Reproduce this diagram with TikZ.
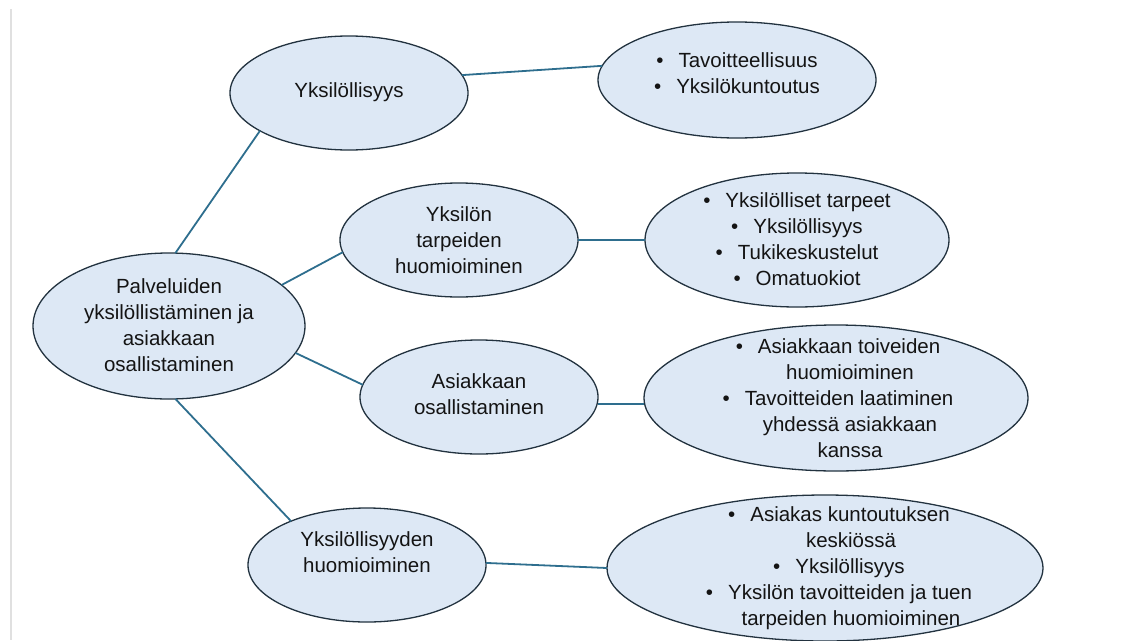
\documentclass[tikz,border=0pt]{standalone}
\usepackage{fontspec}
\setmainfont{Liberation Sans}
\usetikzlibrary{shapes.geometric}
\definecolor{fillb}{HTML}{DDE8F5}
\definecolor{edgeb}{HTML}{22323F}
\definecolor{linkb}{HTML}{2E6E8E}
\definecolor{txtc}{HTML}{141414}
\begin{document}
\begin{tikzpicture}[x=1pt,y=-1pt,
  ell/.style={ellipse,draw=edgeb,fill=fillb,line width=1.3pt,inner sep=0pt,outer sep=0pt},
  txt/.style={align=center,text=txtc,font=\fontsize{20.5}{26}\selectfont,inner sep=0pt},
  link/.style={draw=linkb,line width=1.8pt}]
\useasboundingbox (0,0) rectangle (1137,640);
\draw[color=black!12,line width=2pt] (11,9) -- (11,640);
% ellipses
\node[ell,minimum width=272,minimum height=146] (main) at (169,326) {};
\node[ell,minimum width=238,minimum height=114] (yk) at (349,93) {};
\node[ell,minimum width=278,minimum height=116] (tv) at (737,80) {};
\node[ell,minimum width=238,minimum height=114] (tp) at (459,240) {};
\node[ell,minimum width=304,minimum height=134] (yt) at (797,240) {};
\node[ell,minimum width=238,minimum height=114] (os) at (479,397) {};
\node[ell,minimum width=384,minimum height=146] (at) at (836,398) {};
\node[ell,minimum width=238,minimum height=114] (yh) at (367,565) {};
\node[ell,minimum width=436,minimum height=146] (ak) at (825,568) {};
% texts
\node[txt] (maint) at (169,325) {Palveluiden\\yksilöllistäminen ja\\asiakkaan\\osallistaminen};
\node[txt] (ykt) at (349,92) {Yksilöllisyys};
\node[txt] (tvt) at (737,73) {•\hspace{15pt}Tavoitteellisuus\\•\hspace{15pt}Yksilökuntoutus};
\node[txt] (tpt) at (459,240) {Yksilön\\tarpeiden\\huomioiminen};
\node[txt] (ytt) at (797,239) {•\hspace{15pt}Yksilölliset tarpeet\\•\hspace{15pt}Yksilöllisyys\\•\hspace{15pt}Tukikeskustelut\\•\hspace{15pt}Omatuokiot};
\node[txt] (ost) at (479,394) {Asiakkaan\\osallistaminen};
\node[txt] (att) at (838,398) {•\hspace{15pt}Asiakkaan toiveiden\\\hspace*{24pt}huomioiminen\\•\hspace{15pt}Tavoitteiden laatiminen\\\hspace*{24pt}yhdessä asiakkaan\\\hspace*{24pt}kanssa};
\node[txt] (yht) at (367,552) {Yksilöllisyyden\\huomioiminen};
\node[txt] (akt) at (839,568) {•\hspace{15pt}Asiakas kuntoutuksen\\\hspace*{24pt}keskiössä\\•\hspace{15pt}Yksilöllisyys\\•\hspace{15pt}Yksilön tavoitteiden ja tuen\\\hspace*{24pt}tarpeiden huomioiminen};
% connectors
\draw[link] (main.85.5) -- (yk.203);
\draw[link] (main.20.8) -- (tp.186.9);
\draw[link] (main.348.4) -- (os.174.1);
\draw[link] (main.275.4) -- (yh.150);
\draw[link] (yk.9.5) -- (tv.174.7);
\draw[link] (tp.0) -- (yt.180);
\draw[link] ([yshift=-7pt]os.east) -- ([yshift=-6pt]at.west);
\draw[link] (yh.1) -- (ak.180.5);
\end{tikzpicture}
\end{document}
